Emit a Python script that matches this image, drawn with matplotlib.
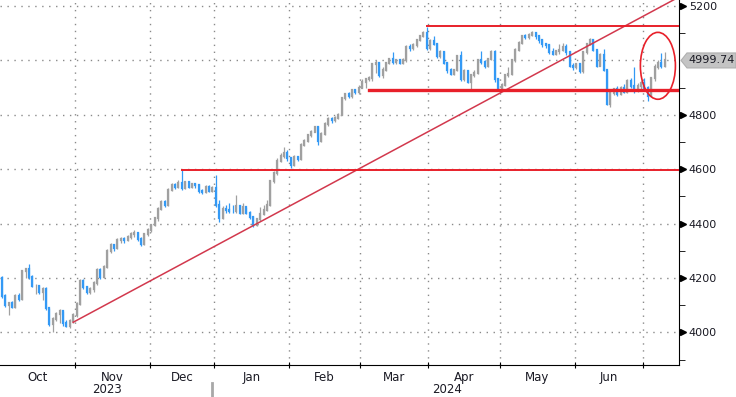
import matplotlib
matplotlib.use("Agg")
import matplotlib.pyplot as plt
from matplotlib.patches import Ellipse, Polygon
import numpy as np
import pandas as pd

# daily bars, one list per month
start_close = 4200  # close of the session before the first bar
oct_close = [4135, 4100, 4108, 4095, 4135, 4122, 4225, 4232, 4205, 4170, 4172,
             4150, 4160, 4088, 4032, 4048, 4068, 4078, 4035, 4025, 4042, 4062]
oct_low = [4128, 4092, 4065, 4088, 4090, 4115, 4118, 4200, 4198, 4165, 4140,
           4140, 4120, 4082, 4025, 4000, 4040, 4035, 4025, 4018, 4015, 4035]
oct_high = [4207, 4140, 4112, 4115, 4140, 4145, 4228, 4235, 4250, 4210, 4178,
            4175, 4168, 4165, 4090, 4055, 4075, 4085, 4080, 4045, 4048, 4070]
nov_close = [4105, 4190, 4165, 4150, 4160, 4180, 4230, 4205, 4240, 4300, 4320,
             4310, 4340, 4345, 4340, 4350, 4360, 4365, 4345, 4325, 4360, 4375]
nov_low = [4058, 4100, 4160, 4140, 4140, 4150, 4175, 4198, 4200, 4238, 4290,
           4300, 4305, 4330, 4330, 4335, 4345, 4352, 4335, 4318, 4322, 4355]
nov_high = [4110, 4198, 4195, 4172, 4168, 4188, 4238, 4235, 4248, 4305, 4328,
            4325, 4348, 4352, 4350, 4358, 4368, 4375, 4370, 4350, 4365, 4382]
dec_close = [4395, 4420, 4455, 4478, 4470, 4525, 4540, 4535, 4550, 4530,
             4552, 4535, 4545, 4540, 4520, 4515, 4535, 4520, 4530]
dec_low = [4370, 4390, 4410, 4450, 4462, 4465, 4520, 4528, 4530, 4525,
           4528, 4530, 4530, 4532, 4512, 4508, 4512, 4515, 4515]
dec_high = [4400, 4425, 4462, 4485, 4485, 4530, 4548, 4550, 4560, 4598,
            4558, 4556, 4550, 4550, 4545, 4528, 4540, 4540, 4538]
jan_close = [4470, 4420, 4455, 4450, 4448, 4445, 4465, 4440, 4460, 4440, 4425,
             4395, 4415, 4435, 4450, 4470, 4555, 4585, 4630, 4650, 4660, 4640]
jan_low = [4460, 4405, 4415, 4440, 4440, 4438, 4438, 4435, 4435, 4435, 4418,
           4388, 4390, 4410, 4430, 4445, 4465, 4550, 4580, 4625, 4640, 4630]
jan_high = [4580, 4485, 4465, 4470, 4475, 4470, 4505, 4470, 4475, 4462, 4445,
            4428, 4420, 4462, 4470, 4485, 4562, 4595, 4640, 4658, 4680, 4670]
feb_close = [4615, 4645, 4638, 4690, 4705, 4725, 4738, 4755, 4705, 4730, 4765,
             4785, 4780, 4788, 4800, 4860, 4875, 4868, 4890, 4882, 4900]
feb_low = [4605, 4610, 4630, 4635, 4685, 4700, 4720, 4735, 4690, 4700, 4725,
           4760, 4770, 4775, 4785, 4798, 4855, 4860, 4862, 4878, 4878]
feb_high = [4645, 4652, 4650, 4695, 4712, 4730, 4745, 4760, 4760, 4735, 4772,
            4790, 4792, 4795, 4805, 4865, 4880, 4882, 4895, 4895, 4910]
mar_close = [4920, 4930, 4935, 4985, 4990, 4945, 4965, 4990, 5005, 4995,
             5000, 4990, 5000, 5050, 5045, 5055, 5075, 5090, 5100, 5045]
mar_low = [4912, 4900, 4925, 4925, 4955, 4940, 4935, 4960, 4985, 4988,
           4985, 4985, 4985, 4995, 5035, 5040, 5050, 5070, 5085, 5040]
mar_high = [4930, 4935, 4942, 4990, 5000, 4995, 4975, 4995, 5010, 5030,
            5005, 5005, 5008, 5055, 5060, 5065, 5080, 5095, 5108, 5124]
apr_close = [5070, 5060, 5015, 5030, 4990, 4965, 4950, 4965, 5015, 4930, 4960,
             4920, 4945, 4955, 5000, 4995, 4980, 5005, 5030, 4930, 4900]
apr_low = [5040, 5055, 5008, 5010, 4985, 4955, 4945, 4945, 4960, 4925, 4925,
           4915, 4890, 4940, 4950, 4988, 4972, 4975, 5000, 4920, 4890]
apr_high = [5078, 5090, 5065, 5040, 5035, 4995, 4972, 4970, 5020, 5035, 4968,
            4965, 4950, 4965, 5005, 5035, 5002, 5010, 5040, 5040, 4935]
may_close = [4910, 4945, 4950, 5000, 5040, 5065, 5090, 5085, 5095, 5100, 5090,
             5075, 5060, 5055, 5030, 5025, 5035, 5040, 5050, 5030, 4980, 4975]
may_low = [4888, 4905, 4940, 4945, 4995, 5035, 5060, 5080, 5080, 5090, 5080,
           5065, 5050, 5045, 5025, 5018, 5020, 5025, 5035, 5020, 4975, 4965]
may_high = [4915, 4950, 4975, 5005, 5045, 5070, 5095, 5098, 5100, 5108, 5105,
            5090, 5078, 5065, 5060, 5045, 5040, 5060, 5063, 5060, 5035, 4990]
jun_close = [4985, 4960, 5030, 5060, 5075, 5040, 4980, 5020, 4965, 4840,
             4880, 4895, 4875, 4900, 4885, 4925, 4905, 4890, 4905, 4915]
jun_low = [4970, 4955, 4955, 5025, 5055, 5035, 4975, 4978, 4960, 4835,
           4830, 4872, 4870, 4872, 4880, 4880, 4898, 4880, 4885, 4895]
jun_high = [4992, 4990, 5035, 5065, 5082, 5078, 5035, 5028, 5042, 4962,
            4895, 4900, 4905, 4905, 4912, 4930, 4935, 4975, 4915, 4925]
jul_close = [4900, 4870, 4935, 4975, 4990, 4980, 4999.74]
jul_low = [4895, 4850, 4865, 4925, 4970, 4972, 4976]
jul_high = [4935, 4905, 4940, 4985, 5000, 5028, 5031]
last_label = "4999.74"

# drawn lines (bar index, level)
trend_x = [21, 198]
trend_y = [4037, 5225]
top_level, top_from = 5125, 125
support_level, support_from = 4890, 108
old_high_level, old_high_from = 4598, 53
circle_center = (193, 4980)

holidays = ["2023-12-25", "2023-12-26", "2024-01-01", "2024-03-29", "2024-04-01", "2024-05-01"]

closes = np.concatenate([oct_close, nov_close, dec_close, jan_close, feb_close,
                         mar_close, apr_close, may_close, jun_close, jul_close])
lows = np.concatenate([oct_low, nov_low, dec_low, jan_low, feb_low,
                       mar_low, apr_low, may_low, jun_low, jul_low])
highs = np.concatenate([oct_high, nov_high, dec_high, jan_high, feb_high,
                        mar_high, apr_high, may_high, jun_high, jul_high])
opens = np.r_[start_close, closes[:-1]]
days = pd.bdate_range("2023-10-02", periods=len(closes), freq="C", holidays=holidays)
idx = np.arange(len(closes))

BLUE = "#3399f5"
GREY = "#a0a0a0"
RED = "#e8202a"
TREND = "#d2384d"
TXT = "#1a1a24"

fig = plt.figure(figsize=(7.36, 3.97), dpi=100)
ax = fig.add_axes([0, 1 - 365 / 397, 679 / 736, 365 / 397])

xmax = -0.5 + 679 / 3.4
ax.set_xlim(-0.5, xmax)
ax.set_ylim(3880, 5222)

# month boundaries
month_key = days.to_period("M")
firsts = [i for i in idx if i == 0 or month_key[i] != month_key[i - 1]]
bounds = [f - 0.5 for f in firsts[1:]]
lasts = [f - 1 for f in firsts[1:]] + [len(idx) - 1]
centers = [(f + l) / 2 for f, l in zip(firsts, lasts)][:-1]
mnames = [d.strftime("%b") for d in days[firsts]][:-1]

# grid
dot = (0, (1, 4))
for b in bounds:
    ax.axvline(b, color="#8a8a8a", lw=1, ls=dot, zorder=0)
for lv in range(4000, 5201, 200):
    ax.axhline(lv, color="#8a8a8a", lw=1, ls=dot, zorder=0)

# candles
cols = np.where(closes < opens, BLUE, GREY)
ax.vlines(idx, np.minimum(lows, np.minimum(opens, closes)),
          np.maximum(highs, np.maximum(opens, closes)), colors=cols, lw=0.9, zorder=2)
ax.vlines(idx, np.minimum(opens, closes), np.maximum(opens, closes),
          colors=cols, lw=1.6, zorder=2, capstyle="projecting")

# annotations
ax.plot(trend_x, trend_y, color=TREND, lw=1.1, zorder=3)
ax.plot([top_from, xmax], [top_level] * 2, color=RED, lw=1.4, zorder=3)
ax.plot([support_from, xmax], [support_level] * 2, color=RED, lw=2.4, zorder=3)
ax.plot([old_high_from, xmax], [old_high_level] * 2, color=RED, lw=1.4, zorder=3)
ax.add_patch(Ellipse(circle_center, 10.3, 246, fill=False, ec=RED, lw=1.2, zorder=4))

# spines
for s in ["top", "left"]:
    ax.spines[s].set_visible(False)
ax.spines["right"].set_color("black")
ax.spines["bottom"].set_color("black")

# x axis
ax.set_xticks(bounds)
ax.set_xticklabels([])
ax.tick_params(axis="x", which="major", direction="inout", length=5, color="black")
ax.set_xticks(centers, minor=True)
ax.set_xticklabels(mnames, minor=True, fontsize=8.5, color=TXT)
ax.tick_params(axis="x", which="minor", length=0, pad=4)

jan_b = bounds[2]
ax.text((-0.5 + jan_b) / 2, -0.068, "2023", transform=ax.get_xaxis_transform(),
        ha="center", va="center", fontsize=8.5, color=TXT)
ax.text((jan_b + xmax) / 2, -0.068, "2024", transform=ax.get_xaxis_transform(),
        ha="center", va="center", fontsize=8.5, color=TXT)
ax.plot([jan_b - 0.6, jan_b - 0.6], [-0.048, -0.09], color="#a8a8a8", lw=2,
        transform=ax.get_xaxis_transform(), clip_on=False)

# y axis on the right
ax.yaxis.tick_right()
major = [4000, 4200, 4400, 4600, 4800, 5000, 5200]
ax.set_yticks(major)
ax.set_yticklabels(["4000", "4200", "4400", "4600", "4800", "", "5200"])
ax.tick_params(axis="y", which="major", length=0, pad=7, labelsize=8, labelcolor=TXT)
ax.set_yticks(np.arange(3900, 5200, 200), minor=True)
ax.tick_params(axis="y", which="minor", length=4, direction="out", color="black")
tri = [4000, 4200, 4400, 4600, 4800, 5200]
ax.plot([1.0065] * len(tri), tri, ls="none", marker=">", ms=5, color="black",
        transform=ax.get_yaxis_transform(), clip_on=False)

# last value tag
px = 1 / 679
h = 7.5 * 1342 / 365
tag = Polygon([(1 + 2 * px, closes[-1]), (1 + 8 * px, closes[-1] + h), (1 + 57 * px, closes[-1] + h),
               (1 + 57 * px, closes[-1] - h), (1 + 8 * px, closes[-1] - h)],
              closed=True, fc="#c4c4c4", ec="#b0b0b0", lw=0.8,
              transform=ax.get_yaxis_transform(), clip_on=False)
ax.add_patch(tag)
ax.text(1 + 9 * px, closes[-1], last_label, transform=ax.get_yaxis_transform(),
        ha="left", va="center", fontsize=8, color=TXT)

fig.savefig("out.png", dpi=100)
